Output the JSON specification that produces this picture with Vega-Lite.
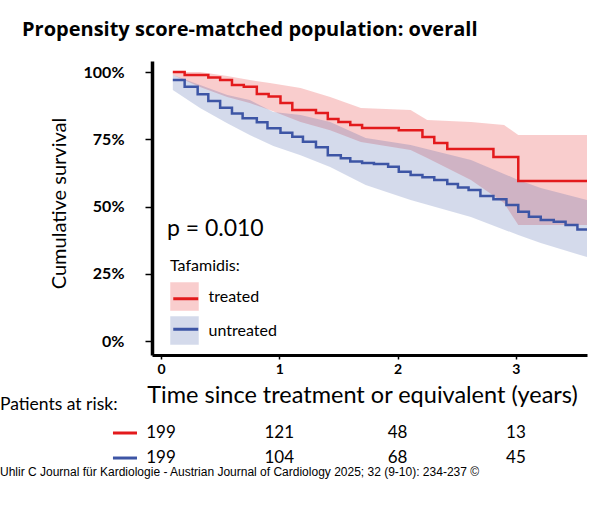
{
  "$schema": "https://vega.github.io/schema/vega-lite/v6.json",
  "width": 435,
  "height": 294,
  "autosize": {"type": "none"},
  "padding": {"left": 152, "top": 61, "right": 13, "bottom": 171},
  "background": "white",
  "title": {"text": "Propensity score-matched population: overall", "anchor": "start", "frame": "group", "dx": -130, "offset": 5, "baseline": "alphabetic", "font": "Open Sans", "fontSize": 20, "fontWeight": "bold", "color": "black"},
  "config": {"view": {"stroke": null}, "axis": {"grid": false}},
  "datasets": {
    "bands": [
      {"group": "treated", "time": 0.10, "hi": 1.000, "lo": 0.989},
      {"group": "treated", "time": 0.33, "hi": 1.000, "lo": 0.944},
      {"group": "treated", "time": 0.56, "hi": 0.985, "lo": 0.907},
      {"group": "treated", "time": 0.75, "hi": 0.970, "lo": 0.885},
      {"group": "treated", "time": 0.92, "hi": 0.959, "lo": 0.859},
      {"group": "treated", "time": 1.18, "hi": 0.941, "lo": 0.814},
      {"group": "treated", "time": 1.43, "hi": 0.907, "lo": 0.784},
      {"group": "treated", "time": 1.69, "hi": 0.866, "lo": 0.740},
      {"group": "treated", "time": 2.11, "hi": 0.859, "lo": 0.710},
      {"group": "treated", "time": 2.25, "hi": 0.822, "lo": 0.680},
      {"group": "treated", "time": 2.62, "hi": 0.814, "lo": 0.599},
      {"group": "treated", "time": 2.90, "hi": 0.803, "lo": 0.513},
      {"group": "treated", "time": 3.02, "hi": 0.766, "lo": 0.431},
      {"group": "treated", "time": 3.601, "hi": 0.766, "lo": 0.431},
      {"group": "untreated", "time": 0.10, "hi": 0.989, "lo": 0.933},
      {"group": "untreated", "time": 0.33, "hi": 0.952, "lo": 0.866},
      {"group": "untreated", "time": 0.56, "hi": 0.915, "lo": 0.810},
      {"group": "untreated", "time": 0.75, "hi": 0.896, "lo": 0.766},
      {"group": "untreated", "time": 0.95, "hi": 0.851, "lo": 0.725},
      {"group": "untreated", "time": 1.18, "hi": 0.840, "lo": 0.691},
      {"group": "untreated", "time": 1.43, "hi": 0.814, "lo": 0.647},
      {"group": "untreated", "time": 1.73, "hi": 0.755, "lo": 0.580},
      {"group": "untreated", "time": 2.11, "hi": 0.729, "lo": 0.524},
      {"group": "untreated", "time": 2.62, "hi": 0.673, "lo": 0.461},
      {"group": "untreated", "time": 3.02, "hi": 0.599, "lo": 0.394},
      {"group": "untreated", "time": 3.21, "hi": 0.569, "lo": 0.364},
      {"group": "untreated", "time": 3.601, "hi": 0.524, "lo": 0.312}
    ],
    "curves": [
      {"group": "treated", "time": 0.10, "surv": 1.000},
      {"group": "treated", "time": 0.20, "surv": 0.989},
      {"group": "treated", "time": 0.40, "surv": 0.980},
      {"group": "treated", "time": 0.50, "surv": 0.970},
      {"group": "treated", "time": 0.60, "surv": 0.952},
      {"group": "treated", "time": 0.70, "surv": 0.945},
      {"group": "treated", "time": 0.81, "surv": 0.918},
      {"group": "treated", "time": 0.91, "surv": 0.909},
      {"group": "treated", "time": 1.01, "surv": 0.885},
      {"group": "treated", "time": 1.11, "surv": 0.859},
      {"group": "treated", "time": 1.31, "surv": 0.848},
      {"group": "treated", "time": 1.41, "surv": 0.825},
      {"group": "treated", "time": 1.50, "surv": 0.814},
      {"group": "treated", "time": 1.60, "surv": 0.803},
      {"group": "treated", "time": 1.70, "surv": 0.792},
      {"group": "treated", "time": 2.01, "surv": 0.784},
      {"group": "treated", "time": 2.21, "surv": 0.758},
      {"group": "treated", "time": 2.31, "surv": 0.736},
      {"group": "treated", "time": 2.42, "surv": 0.714},
      {"group": "treated", "time": 2.81, "surv": 0.684},
      {"group": "treated", "time": 3.02, "surv": 0.595},
      {"group": "treated", "time": 3.601, "surv": 0.595},
      {"group": "untreated", "time": 0.10, "surv": 0.970},
      {"group": "untreated", "time": 0.20, "surv": 0.945},
      {"group": "untreated", "time": 0.31, "surv": 0.917},
      {"group": "untreated", "time": 0.40, "surv": 0.892},
      {"group": "untreated", "time": 0.50, "surv": 0.867},
      {"group": "untreated", "time": 0.60, "surv": 0.846},
      {"group": "untreated", "time": 0.69, "surv": 0.828},
      {"group": "untreated", "time": 0.81, "surv": 0.813},
      {"group": "untreated", "time": 0.90, "surv": 0.791},
      {"group": "untreated", "time": 1.01, "surv": 0.774},
      {"group": "untreated", "time": 1.11, "surv": 0.759},
      {"group": "untreated", "time": 1.20, "surv": 0.741},
      {"group": "untreated", "time": 1.31, "surv": 0.720},
      {"group": "untreated", "time": 1.41, "surv": 0.691},
      {"group": "untreated", "time": 1.52, "surv": 0.679},
      {"group": "untreated", "time": 1.60, "surv": 0.667},
      {"group": "untreated", "time": 1.70, "surv": 0.662},
      {"group": "untreated", "time": 1.80, "surv": 0.658},
      {"group": "untreated", "time": 1.92, "surv": 0.648},
      {"group": "untreated", "time": 2.01, "surv": 0.629},
      {"group": "untreated", "time": 2.11, "surv": 0.617},
      {"group": "untreated", "time": 2.21, "surv": 0.609},
      {"group": "untreated", "time": 2.31, "surv": 0.599},
      {"group": "untreated", "time": 2.42, "surv": 0.584},
      {"group": "untreated", "time": 2.51, "surv": 0.571},
      {"group": "untreated", "time": 2.60, "surv": 0.561},
      {"group": "untreated", "time": 2.70, "surv": 0.539},
      {"group": "untreated", "time": 2.81, "surv": 0.527},
      {"group": "untreated", "time": 2.92, "surv": 0.506},
      {"group": "untreated", "time": 3.02, "surv": 0.481},
      {"group": "untreated", "time": 3.11, "surv": 0.462},
      {"group": "untreated", "time": 3.21, "surv": 0.450},
      {"group": "untreated", "time": 3.32, "surv": 0.443},
      {"group": "untreated", "time": 3.42, "surv": 0.431},
      {"group": "untreated", "time": 3.52, "surv": 0.415},
      {"group": "untreated", "time": 3.601, "surv": 0.415}
    ],
    "risk": [
      {"group": "treated", "time": 0, "n": 199},
      {"group": "treated", "time": 1, "n": 121},
      {"group": "treated", "time": 2, "n": 48},
      {"group": "treated", "time": 3, "n": 13},
      {"group": "untreated", "time": 0, "n": 199},
      {"group": "untreated", "time": 1, "n": 104},
      {"group": "untreated", "time": 2, "n": 68},
      {"group": "untreated", "time": 3, "n": 45}
    ]
  },
  "layer": [
    {
      "data": {"name": "bands"},
      "mark": {"type": "area", "opacity": 0.22},
      "encoding": {
        "x": {"field": "time", "type": "quantitative",
          "scale": {"domain": [-0.076, 3.601], "nice": false, "zero": false},
          "axis": {"values": [0, 1, 2, 3], "format": "d", "domainColor": "black", "domainWidth": 3, "tickColor": "black", "tickWidth": 1.5, "tickSize": 4, "labelFont": "Lato", "labelFontWeight": "bold", "labelFontSize": 14, "labelColor": "black", "labelPadding": 3, "title": "Time since treatment or equivalent (years)", "titleFont": "Lato", "titleFontSize": 23.5, "titleFontWeight": "normal", "titleColor": "black", "titlePadding": 7, "titleX": 210, "grid": false}},
        "y": {"field": "lo", "type": "quantitative",
          "scale": {"domain": [-0.052, 1.041], "nice": false, "zero": false},
          "axis": {"values": [0, 0.25, 0.5, 0.75, 1], "format": ".0%", "domainColor": "black", "domainWidth": 3.5, "tickColor": "black", "tickWidth": 1.5, "tickSize": 7, "labelFont": "Lato", "labelFontWeight": "bold", "labelFontSize": 16, "labelColor": "black", "labelPadding": 21, "title": "Cumulative survival", "titleFont": "Lato", "titleFontSize": 20, "titleFontWeight": "normal", "titleColor": "black", "titlePadding": 14, "titleY": 142, "grid": false}},
        "y2": {"field": "hi"},
        "fill": {"field": "group", "type": "nominal",
          "scale": {"range": ["#E31A1C", "#3D55A5"]},
          "legend": {"orient": "none", "legendX": 18, "legendY": 197, "title": "Tafamidis:", "titleFont": "Lato", "titleFontSize": 16, "titleFontWeight": "normal", "titleColor": "black", "titlePadding": 8, "labelFont": "Lato", "labelFontSize": 16, "labelColor": "black", "labelOffset": 9.5, "symbolType": "square", "symbolSize": 812, "symbolOpacity": 0.22, "symbolStrokeWidth": 0, "rowPadding": 5, "padding": 0}}
      }
    },
    {
      "data": {"name": "curves"},
      "mark": {"type": "line", "interpolate": "step-after", "strokeWidth": 2.5},
      "encoding": {
        "x": {"field": "time", "type": "quantitative"},
        "y": {"field": "surv", "type": "quantitative"},
        "stroke": {"field": "group", "type": "nominal",
          "scale": {"domain": ["treated", "untreated"], "range": ["#E31A1C", "#3D55A5"]},
          "legend": {"orient": "none", "legendX": 19.75, "legendY": 223.75, "title": null, "symbolType": "stroke", "symbolSize": 625, "symbolStrokeWidth": 3, "labelExpr": "''", "labelFontSize": 16, "labelOffset": 9.5, "rowPadding": 8.5, "padding": 0}}
      }
    },
    {
      "data": {"values": [{}]},
      "mark": {"type": "text", "text": "p = 0.010", "font": "Lato", "fontSize": 23, "color": "black", "align": "left", "baseline": "middle"},
      "encoding": {"x": {"datum": 0.05}, "y": {"datum": 0.416}}
    },
    {
      "data": {"values": [{}]},
      "mark": {"type": "text", "text": "Patients at risk:", "font": "Lato", "fontSize": 17.5, "color": "black", "align": "left", "baseline": "middle"},
      "encoding": {"x": {"datum": -1.361}, "y": {"datum": -0.238}}
    },
    {
      "data": {"values": [{}]},
      "mark": {"type": "rule", "strokeWidth": 3, "color": "#E31A1C"},
      "encoding": {"x": {"datum": -0.406}, "x2": {"datum": -0.203}, "y": {"datum": -0.342}}
    },
    {
      "data": {"values": [{}]},
      "mark": {"type": "rule", "strokeWidth": 3, "color": "#3D55A5"},
      "encoding": {"x": {"datum": -0.406}, "x2": {"datum": -0.203}, "y": {"datum": -0.435}}
    },
    {
      "data": {"name": "risk"},
      "transform": [{"filter": "datum.group === 'treated'"}],
      "mark": {"type": "text", "font": "Lato", "fontSize": 17, "color": "black", "align": "center", "baseline": "middle"},
      "encoding": {"x": {"field": "time", "type": "quantitative"}, "y": {"datum": -0.342}, "text": {"field": "n"}}
    },
    {
      "data": {"name": "risk"},
      "transform": [{"filter": "datum.group === 'untreated'"}],
      "mark": {"type": "text", "font": "Lato", "fontSize": 17, "color": "black", "align": "center", "baseline": "middle"},
      "encoding": {"x": {"field": "time", "type": "quantitative"}, "y": {"datum": -0.435}, "text": {"field": "n"}}
    },
    {
      "data": {"values": [{}]},
      "mark": {"type": "text", "text": "Uhlir C Journal für Kardiologie - Austrian Journal of Cardiology 2025; 32 (9-10): 234-237 ©", "font": "Liberation Sans", "fontSize": 12, "color": "black", "align": "left", "baseline": "middle"},
      "encoding": {"x": {"datum": -1.361}, "y": {"datum": -0.487}}
    }
  ]
}
